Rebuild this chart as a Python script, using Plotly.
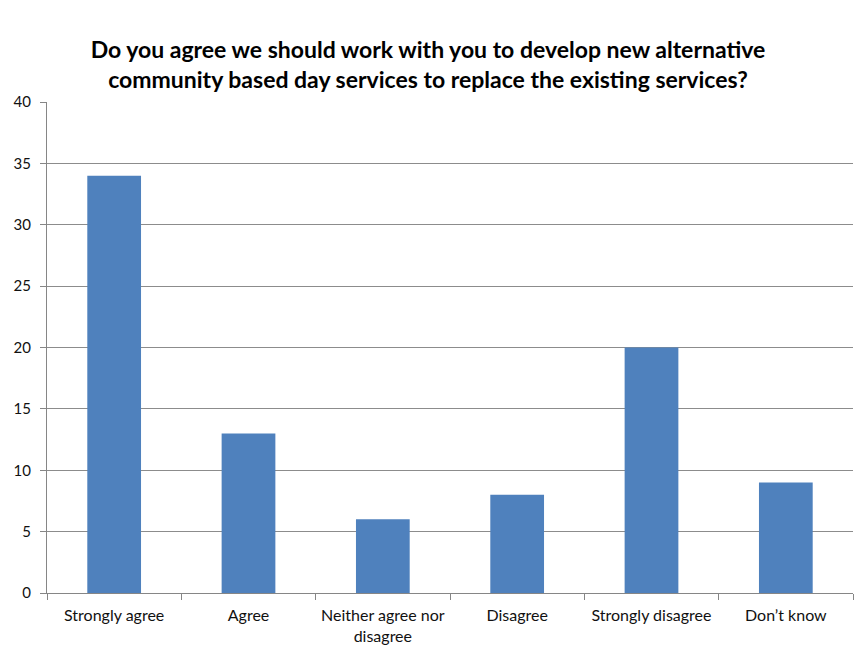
import plotly.graph_objects as go

# Survey responses
categories = ["Strongly agree", "Agree", "Neither agree nor<br>disagree",
              "Disagree", "Strongly disagree", "Don\u2019t know"]
responses = [34, 13, 6, 8, 20, 9]
y_ticks = [0, 5, 10, 15, 20, 25, 30, 35, 40]

title_text = ("Do you agree we should work with you to develop new alternative<br>"
              "community based day services to replace the existing services?")

fig = go.Figure(
    go.Bar(
        x=categories,
        y=responses,
        marker=dict(color="#4F81BD", line=dict(width=0)),
        width=0.4,
    )
)

fig.update_layout(
    width=863,
    height=654,
    paper_bgcolor="white",
    plot_bgcolor="white",
    margin=dict(l=47, r=10, t=102, b=61),
    font=dict(family="Lato, Open Sans, sans-serif", size=15, color="#111111"),
    title=dict(
        text=title_text,
        x=428 / 863,
        xanchor="center",
        xref="container",
        yref="container",
        y=1 - 58 / 654,
        yanchor="top",
        font=dict(family="Lato, Open Sans, sans-serif", size=23, color="#000000",
                  weight="bold"),
    ),
    showlegend=False,
)

fig.update_xaxes(
    showgrid=False,
    showline=True,
    linecolor="#868686",
    linewidth=1,
    ticks="outside",
    tickson="boundaries",
    ticklen=6,
    tickcolor="#868686",
    tickfont=dict(size=16),
    ticklabelstandoff=8,
)

fig.update_yaxes(
    range=[0, 40],
    tickvals=y_ticks,
    showgrid=True,
    gridcolor="#8c8c8c",
    gridwidth=1,
    showline=True,
    linecolor="#868686",
    linewidth=1,
    ticks="outside",
    ticklen=6,
    tickcolor="#868686",
    tickfont=dict(size=15),
    ticklabelstandoff=6,
    zeroline=False,
)

fig.write_html("out.html")
